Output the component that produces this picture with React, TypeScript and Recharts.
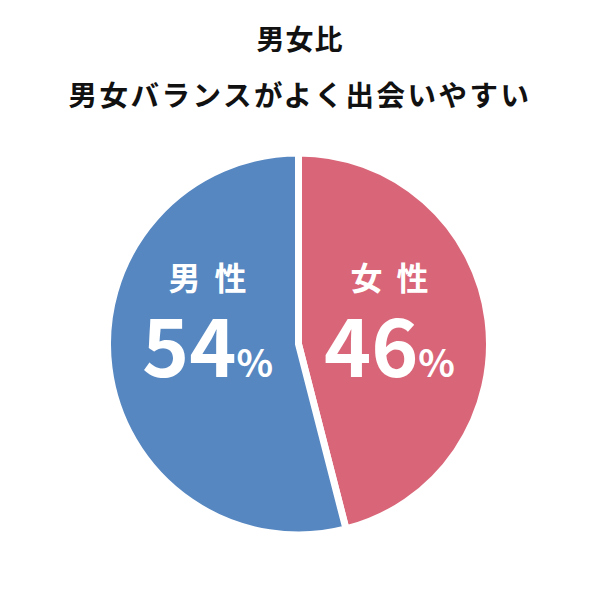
import React from "react";
import { PieChart, Pie, Cell } from "recharts";

const categories = ["女性", "男性"];
const values = [46, 54];
const colors = ["#d96578", "#5687c1"];
const title = "男女比";
const subtitle = "男女バランスがよく出会いやすい";

const data = categories.map((name, i) => ({ name, value: values[i] }));

const FONT = "'Noto Sans CJK JP', 'Noto Sans', sans-serif";
const RAD = Math.PI / 180;

const renderLabel = (props: any) => {
  const { cx, cy, midAngle, outerRadius, name, value } = props;
  const x = cx + outerRadius * 0.48 * Math.cos(-midAngle * RAD);
  return (
    <g>
      <text
        x={x + 7}
        y={cy - 54}
        textAnchor="middle"
        fill="#ffffff"
        fontFamily={FONT}
        fontWeight={700}
        fontSize={32}
        letterSpacing={14}
      >
        {name}
      </text>
      <text
        x={x}
        y={cy + 33}
        textAnchor="middle"
        fill="#ffffff"
        fontFamily={FONT}
        fontWeight={700}
      >
        <tspan fontSize={80}>{value}</tspan>
        <tspan fontSize={38}>%</tspan>
      </text>
    </g>
  );
};

export default function App() {
  return (
    <div style={{ position: "absolute", left: 0, top: 0, width: 600, height: 600, background: "#fff" }}>
      <div
        style={{
          position: "absolute",
          left: 0,
          top: 19,
          width: 600,
          textAlign: "center",
          fontFamily: FONT,
          fontWeight: 700,
          fontSize: 28,
          lineHeight: "38px",
          color: "#111",
          letterSpacing: 1,
        }}
      >
        {title}
      </div>
      <div
        style={{
          position: "absolute",
          left: 0,
          top: 75,
          width: 600,
          textAlign: "center",
          fontFamily: FONT,
          fontWeight: 700,
          fontSize: 28.5,
          lineHeight: "38px",
          color: "#111",
          letterSpacing: 2.5,
        }}
      >
        {subtitle}
      </div>
      <div style={{ position: "absolute", left: 0, top: 0 }}>
        <PieChart width={600} height={600} margin={{ top: 0, right: 0, bottom: 0, left: 0 }}>
          <Pie
            data={data}
            dataKey="value"
            nameKey="name"
            cx={298.5}
            cy={344}
            outerRadius={191}
            startAngle={90}
            endAngle={-270}
            stroke="#ffffff"
            strokeWidth={7}
            label={renderLabel}
            labelLine={false}
            isAnimationActive={false}
          >
            {data.map((d, i) => (
              <Cell key={d.name} fill={colors[i]} />
            ))}
          </Pie>
        </PieChart>
      </div>
    </div>
  );
}
